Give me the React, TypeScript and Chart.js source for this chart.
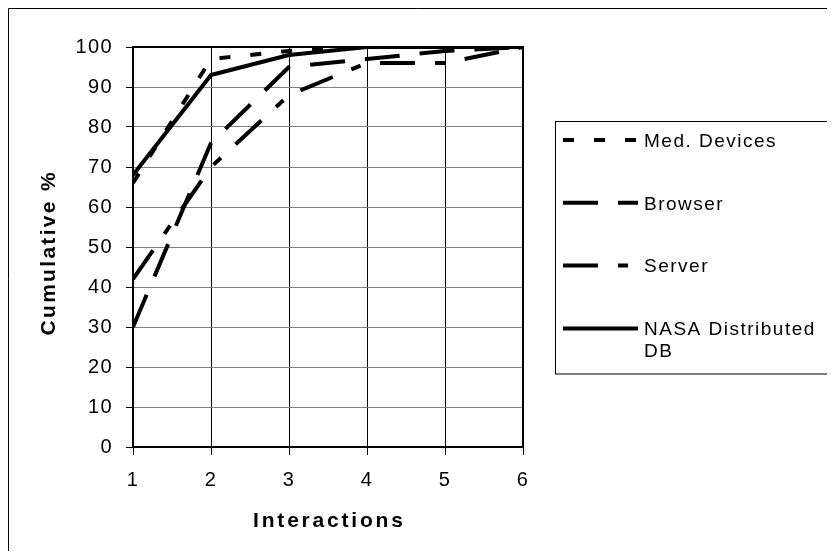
import React, { useEffect, useRef } from 'react';
import { Chart, registerables } from 'chart.js';

Chart.register(...registerables);

// ---- data ----
const interactions = [1, 2, 3, 4, 5, 6];
const medDevices = [66, 97, 99, 100, 100, 100];
const browser = [30, 76, 95, 97, 99, 100];
const server = [42, 70, 88, 96, 96, 100];
const nasaDb = [68, 93, 98, 100, 100, 100];
const seriesLabels = ['Med. Devices', 'Browser', 'Server', 'NASA Distributed DB'];
const xTitle = 'Interactions';
const yTitle = 'Cumulative %';

const FONT = "'Liberation Sans', Arial, Helvetica, sans-serif";

const toPoints = (vals: number[]) => vals.map((v, i) => ({ x: interactions[i], y: v }));

const decorPlugin = {
  id: 'decor',
  beforeDraw(chart: any) {
    const ctx = chart.ctx;
    ctx.save();
    ctx.fillStyle = '#fff';
    ctx.fillRect(0, 0, chart.width, chart.height);
    ctx.strokeStyle = '#000';
    ctx.lineWidth = 1;
    ctx.beginPath();
    ctx.moveTo(0.5, chart.height);
    ctx.lineTo(0.5, 0.5);
    ctx.lineTo(chart.width, 0.5);
    ctx.stroke();
    ctx.restore();
    (ctx as any).letterSpacing = '1.4px';
  },
  beforeDatasetsDraw(chart: any) {
    const ctx = chart.ctx;
    const { left, top, right, bottom } = chart.chartArea;
    ctx.save();
    ctx.strokeStyle = '#000';
    ctx.lineWidth = 2;
    ctx.beginPath();
    ctx.moveTo(left, top);
    ctx.lineTo(right, top);
    ctx.lineTo(right, bottom);
    ctx.stroke();
    ctx.restore();
  },
  afterDraw(chart: any) {
    const ctx = chart.ctx;
    const { left, top, right, bottom } = chart.chartArea;
    ctx.save();
    ctx.fillStyle = '#000';
    // x title
    ctx.font = `bold 21px ${FONT}`;
    (ctx as any).letterSpacing = '2.8px';
    ctx.textAlign = 'center';
    ctx.textBaseline = 'alphabetic';
    ctx.fillText(xTitle, (left + right) / 2 + 1.4, 519);
    // y title
    (ctx as any).letterSpacing = '2.3px';
    ctx.save();
    ctx.translate(47, (top + bottom) / 2 + 4.7 + 1.1);
    ctx.rotate(-Math.PI / 2);
    ctx.fillText(yTitle, 0, 0);
    ctx.restore();

    // legend box
    ctx.strokeStyle = '#000';
    ctx.lineWidth = 1;
    ctx.strokeRect(547.5, 113.5, chart.width, 252.5);

    const rowY0 = 132;
    const rowStep = 62.8;
    const lineX0 = 555;
    const lineX1 = 630;
    const textX = 636;
    ctx.font = `19px ${FONT}`;
    (ctx as any).letterSpacing = '1.5px';
    ctx.textAlign = 'left';
    chart.data.datasets.forEach((ds: any, i: number) => {
      const y = rowY0 + i * rowStep;
      ctx.save();
      ctx.strokeStyle = ds.borderColor;
      ctx.lineWidth = ds.borderWidth;
      ctx.setLineDash(ds.borderDash || []);
      ctx.beginPath();
      ctx.moveTo(lineX0, y);
      ctx.lineTo(lineX1, y);
      ctx.stroke();
      ctx.restore();
      // wrap text
      const words = String(ds.label).split(' ');
      const lines: string[] = [];
      let cur = '';
      words.forEach((w) => {
        const test = cur ? cur + ' ' + w : w;
        if (cur && ctx.measureText(test).width > 180) {
          lines.push(cur);
          cur = w;
        } else cur = test;
      });
      if (cur) lines.push(cur);
      lines.forEach((ln, k) => ctx.fillText(ln, textX, y + 6.8 + k * 22));
    });
    ctx.restore();
    (ctx as any).letterSpacing = '0px';
  },
};

export default function App() {
  const ref = useRef<HTMLCanvasElement>(null);
  useEffect(() => {
    const common = {
      borderColor: '#000',
      borderWidth: 4,
      pointRadius: 0,
      pointHoverRadius: 0,
      fill: false,
      tension: 0,
      borderJoinStyle: 'round' as const,
      borderCapStyle: 'butt' as const,
    };
    const chart = new Chart(ref.current!, {
      type: 'line',
      data: {
        datasets: [
          { ...common, label: seriesLabels[0], data: toPoints(medDevices), borderDash: [11, 20] },
          { ...common, label: seriesLabels[1], data: toPoints(browser), borderDash: [35, 20] },
          { ...common, label: seriesLabels[2], data: toPoints(server), borderDash: [35, 20, 10, 20] },
          { ...common, label: seriesLabels[3], data: toPoints(nasaDb), borderDash: [] },
        ],
      },
      options: {
        animation: false,
        responsive: false,
        devicePixelRatio: 1,
        layout: { padding: { left: 0, top: 39, right: 304, bottom: 0 } },
        plugins: { legend: { display: false }, tooltip: { enabled: false } },
        events: [],
        scales: {
          x: {
            type: 'linear',
            min: 1,
            max: 6,
            afterFit: (s: any) => { s.height = 104; },
            ticks: { stepSize: 1, color: '#000', font: { family: FONT, size: 20 }, padding: 13 },
            grid: { color: '#000', lineWidth: 1, tickLength: 8, tickColor: '#000' },
            border: { color: '#000', width: 2 },
          },
          y: {
            min: 0,
            max: 100,
            afterFit: (s: any) => { s.width = 125; },
            ticks: { stepSize: 10, color: '#000', font: { family: FONT, size: 20 }, padding: 13 },
            grid: { color: '#808080', lineWidth: 1, tickLength: 7, tickColor: '#000' },
            border: { color: '#000', width: 2 },
          },
        },
      },
      plugins: [decorPlugin],
    } as any);
    return () => chart.destroy();
  }, []);
  return (
    <div style={{ width: 819, height: 543 }}>
      <canvas ref={ref} width={819} height={543} style={{ display: 'block' }} />
    </div>
  );
}
